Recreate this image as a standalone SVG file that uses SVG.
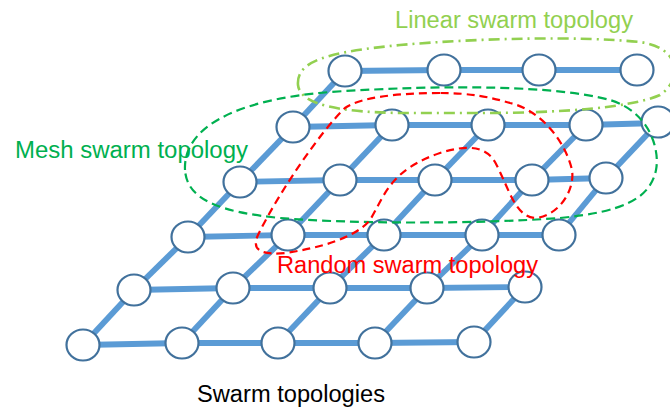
<svg xmlns="http://www.w3.org/2000/svg" width="670" height="407" viewBox="0 0 670 407">
<style>
.e{stroke:#5B9BD5;stroke-width:5.8;fill:none}
.n{fill:#fff;stroke:#41719C;stroke-width:2.2}
.lbl{font-family:"Liberation Sans",Arial,sans-serif;font-size:23px}
.lin{fill:none;stroke:#92D050;stroke-width:2.6;stroke-dasharray:11 5 2 5}
.mesh{fill:none;stroke:#00B050;stroke-width:2.2;stroke-dasharray:9 5}
.rnd{fill:none;stroke:#FF0000;stroke-width:2.2;stroke-dasharray:8 5}
</style>
<rect width="670" height="407" fill="#fff"/>
<g id="connectors">
<line class="e" x1="345" y1="71" x2="444" y2="70"/>
<line class="e" x1="444" y1="70" x2="539" y2="70"/>
<line class="e" x1="539" y1="70" x2="637" y2="70"/>
<line class="e" x1="293" y1="127" x2="392" y2="125"/>
<line class="e" x1="392" y1="125" x2="488" y2="125"/>
<line class="e" x1="488" y1="125" x2="586" y2="125"/>
<line class="e" x1="586" y1="125" x2="658" y2="123"/>
<line class="e" x1="240" y1="182" x2="340" y2="180"/>
<line class="e" x1="340" y1="180" x2="435" y2="180"/>
<line class="e" x1="435" y1="180" x2="532" y2="180"/>
<line class="e" x1="532" y1="180" x2="606" y2="178"/>
<line class="e" x1="188" y1="237" x2="288" y2="235"/>
<line class="e" x1="288" y1="235" x2="384" y2="235"/>
<line class="e" x1="384" y1="235" x2="482" y2="235"/>
<line class="e" x1="482" y1="235" x2="559" y2="235"/>
<line class="e" x1="134" y1="290" x2="233" y2="288"/>
<line class="e" x1="233" y1="288" x2="330" y2="288"/>
<line class="e" x1="330" y1="288" x2="427" y2="288"/>
<line class="e" x1="427" y1="288" x2="525" y2="287"/>
<line class="e" x1="83" y1="345" x2="182" y2="343"/>
<line class="e" x1="182" y1="343" x2="278" y2="343"/>
<line class="e" x1="278" y1="343" x2="375" y2="343"/>
<line class="e" x1="375" y1="343" x2="474" y2="342"/>
<line class="e" x1="83" y1="345" x2="134" y2="290"/>
<line class="e" x1="182" y1="343" x2="233" y2="288"/>
<line class="e" x1="278" y1="343" x2="330" y2="288"/>
<line class="e" x1="375" y1="343" x2="427" y2="288"/>
<line class="e" x1="474" y1="342" x2="525" y2="287"/>
<line class="e" x1="134" y1="290" x2="188" y2="237"/>
<line class="e" x1="233" y1="288" x2="288" y2="235"/>
<line class="e" x1="330" y1="288" x2="384" y2="235"/>
<line class="e" x1="427" y1="288" x2="482" y2="235"/>
<line class="e" x1="188" y1="237" x2="240" y2="182"/>
<line class="e" x1="288" y1="235" x2="340" y2="180"/>
<line class="e" x1="384" y1="235" x2="435" y2="180"/>
<line class="e" x1="482" y1="235" x2="532" y2="180"/>
<line class="e" x1="559" y1="235" x2="606" y2="178"/>
<line class="e" x1="240" y1="182" x2="293" y2="127"/>
<line class="e" x1="340" y1="180" x2="392" y2="125"/>
<line class="e" x1="435" y1="180" x2="488" y2="125"/>
<line class="e" x1="532" y1="180" x2="586" y2="125"/>
<line class="e" x1="606" y1="178" x2="658" y2="123"/>
<line class="e" x1="293" y1="127" x2="345" y2="71"/>
</g>
<g id="nodes">
<g id="n1_1"><ellipse class="n" cx="345" cy="71" rx="16.5" ry="15.5"/></g>
<g id="n1_2"><ellipse class="n" cx="444" cy="70" rx="16.5" ry="15.5"/></g>
<g id="n1_3"><ellipse class="n" cx="539" cy="70" rx="16.5" ry="15.5"/></g>
<g id="n1_4"><ellipse class="n" cx="637" cy="70" rx="16.5" ry="15.5"/></g>
<g id="n2_1"><ellipse class="n" cx="293" cy="127" rx="16.5" ry="15.5"/></g>
<g id="n2_2"><ellipse class="n" cx="392" cy="125" rx="16.5" ry="15.5"/></g>
<g id="n2_3"><ellipse class="n" cx="488" cy="125" rx="16.5" ry="15.5"/></g>
<g id="n2_4"><ellipse class="n" cx="586" cy="125" rx="16.5" ry="15.5"/></g>
<g id="n2_5"><ellipse class="n" cx="658" cy="122" rx="16.5" ry="15.5"/></g>
<g id="n3_1"><ellipse class="n" cx="240" cy="182" rx="16.5" ry="15.5"/></g>
<g id="n3_2"><ellipse class="n" cx="340" cy="180" rx="16.5" ry="15.5"/></g>
<g id="n3_3"><ellipse class="n" cx="435" cy="180" rx="16.5" ry="15.5"/></g>
<g id="n3_4"><ellipse class="n" cx="532" cy="180" rx="16.5" ry="15.5"/></g>
<g id="n3_5"><ellipse class="n" cx="606" cy="178" rx="16.5" ry="15.5"/></g>
<g id="n4_1"><ellipse class="n" cx="188" cy="237" rx="16.5" ry="15.5"/></g>
<g id="n4_2"><ellipse class="n" cx="288" cy="235" rx="16.5" ry="15.5"/></g>
<g id="n4_3"><ellipse class="n" cx="384" cy="235" rx="16.5" ry="15.5"/></g>
<g id="n4_4"><ellipse class="n" cx="482" cy="235" rx="16.5" ry="15.5"/></g>
<g id="n4_5"><ellipse class="n" cx="559" cy="235" rx="16.5" ry="15.5"/></g>
<g id="n5_1"><ellipse class="n" cx="134" cy="290" rx="16.5" ry="15.5"/></g>
<g id="n5_2"><ellipse class="n" cx="233" cy="288" rx="16.5" ry="15.5"/></g>
<g id="n5_3"><ellipse class="n" cx="330" cy="288" rx="16.5" ry="15.5"/></g>
<g id="n5_4"><ellipse class="n" cx="427" cy="288" rx="16.5" ry="15.5"/></g>
<g id="n5_5"><ellipse class="n" cx="525" cy="287" rx="16.5" ry="15.5"/></g>
<g id="n6_1"><ellipse class="n" cx="83" cy="345" rx="16.5" ry="15.5"/></g>
<g id="n6_2"><ellipse class="n" cx="182" cy="343" rx="16.5" ry="15.5"/></g>
<g id="n6_3"><ellipse class="n" cx="278" cy="343" rx="16.5" ry="15.5"/></g>
<g id="n6_4"><ellipse class="n" cx="375" cy="343" rx="16.5" ry="15.5"/></g>
<g id="n6_5"><ellipse class="n" cx="474" cy="342" rx="16.5" ry="15.5"/></g>
</g>
<g id="regions">
<path id="linear-region" class="lin" d="M298,85 C296,60 330,52 400,45 C480,38 580,36 640,42 C682,48 682,80 660,95 C630,108 560,113 480,113 L400,113 C340,112 300,105 298,85 Z"/>
<path id="mesh-region" class="mesh" d="M185,170 C183,130 230,100 330,92 C450,84 560,86 610,100 C650,112 660,150 656,170 C650,200 620,212 560,218 C480,224 350,224 280,218 C220,212 187,200 185,170 Z"/>
<path id="random-region" class="rnd" d="M440,93 C400,93 360,97 345,108 C322,130 280,190 258,235 C250,252 265,255 285,253 C320,248 355,238 370,220 C385,195 390,170 440,153 C465,145 485,145 495,162 C510,190 515,218 537,218 C560,214 575,190 572,170 C565,140 540,110 510,103 C490,97 470,93 440,93 Z"/>
</g>
<g id="labels">
<text class="lbl" x="395" y="28" fill="#92D050" textLength="238" lengthAdjust="spacingAndGlyphs">Linear swarm topology</text>
<text class="lbl" x="15" y="158" fill="#00B050" textLength="233" lengthAdjust="spacingAndGlyphs">Mesh swarm topology</text>
<text class="lbl" x="277" y="273" fill="#FF0000" textLength="261" lengthAdjust="spacingAndGlyphs">Random swarm topology</text>
<text class="lbl" x="197" y="402" fill="#000" textLength="188" lengthAdjust="spacingAndGlyphs">Swarm topologies</text>
</g>
</svg>
